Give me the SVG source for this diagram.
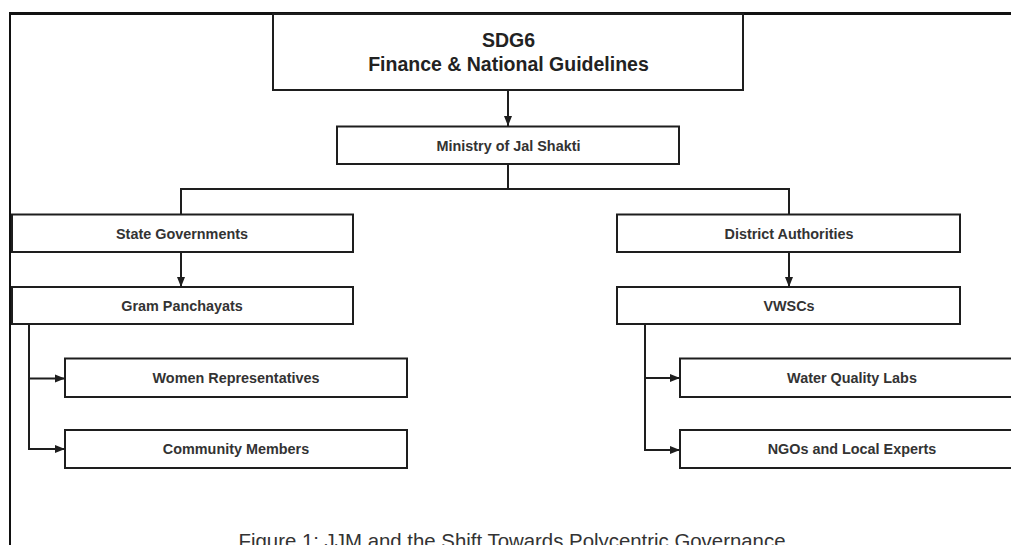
<svg xmlns="http://www.w3.org/2000/svg" width="1011" height="545" viewBox="0 0 1011 545">
<style>
.box{fill:#fff;stroke:#1e1e1e;stroke-width:2}
.lbl{font-family:"Liberation Sans",Arial,sans-serif;font-weight:bold;font-size:14.4px;fill:#333;text-anchor:middle}
.ttl{font-family:"Liberation Sans",Arial,sans-serif;font-weight:bold;font-size:19.5px;fill:#222;text-anchor:middle}
.cap{font-family:"Liberation Sans",Arial,sans-serif;font-size:20.4px;fill:#333;text-anchor:middle}
.ln{fill:none;stroke:#1e1e1e;stroke-width:2}
.arr{fill:none;stroke:#1e1e1e;stroke-width:2;marker-end:url(#ah)}
</style>
<defs>
<marker id="ah" markerUnits="userSpaceOnUse" markerWidth="10" markerHeight="10" viewBox="0 0 10 10" refX="10" refY="5" orient="auto">
<path d="M0,1 L10,5 L0,9 Z" fill="#1e1e1e"/>
</marker>
</defs>
<rect width="1011" height="545" fill="#fff"/>
<g id="frame">
<line x1="9" y1="13.5" x2="1011" y2="13.5" stroke="#111" stroke-width="3"/>
<line x1="10" y1="12" x2="10" y2="545" stroke="#111" stroke-width="2"/>
</g>
<g id="connectors">
<line class="arr" x1="508" y1="90" x2="508" y2="126"/>
<polyline class="ln" points="508,164 508,189"/>
<polyline class="ln" points="181,214 181,189 789,189 789,214"/>
<line class="arr" x1="181" y1="252" x2="181" y2="287"/>
<line class="arr" x1="789" y1="252" x2="789" y2="287"/>
<polyline class="ln" points="29,324 29,449"/>
<line class="arr" x1="29" y1="378.5" x2="65" y2="378.5"/>
<line class="arr" x1="28" y1="449" x2="65" y2="449"/>
<polyline class="ln" points="645,324 645,450"/>
<line class="arr" x1="645" y1="378" x2="680" y2="378"/>
<line class="arr" x1="644" y1="450" x2="680" y2="450"/>
</g>
<g id="sdg6">
<rect class="box" x="273" y="14" width="470" height="76"/>
<text class="ttl" x="508.5" y="47">SDG6</text>
<text class="ttl" x="508.5" y="71">Finance &amp; National Guidelines</text>
</g>
<g id="ministry">
<rect class="box" x="337" y="126.5" width="342" height="37.5"/>
<text class="lbl" x="508.5" y="151">Ministry of Jal Shakti</text>
</g>
<g id="state">
<rect class="box" x="12" y="214.5" width="341" height="37.5"/>
<text class="lbl" x="182" y="238.5">State Governments</text>
</g>
<g id="district">
<rect class="box" x="617" y="214.5" width="343" height="37.5"/>
<text class="lbl" x="789" y="238.5">District Authorities</text>
</g>
<g id="gram">
<rect class="box" x="12" y="287" width="341" height="37"/>
<text class="lbl" x="182" y="311">Gram Panchayats</text>
</g>
<g id="vwscs">
<rect class="box" x="617" y="287" width="343" height="37"/>
<text class="lbl" x="789" y="311">VWSCs</text>
</g>
<g id="women">
<rect class="box" x="65" y="358.5" width="342" height="38.5"/>
<text class="lbl" x="236" y="383">Women Representatives</text>
</g>
<g id="community">
<rect class="box" x="65" y="430" width="342" height="38"/>
<text class="lbl" x="236" y="454">Community Members</text>
</g>
<g id="waterlabs">
<rect class="box" x="680" y="358.5" width="344" height="38.5"/>
<text class="lbl" x="852" y="383">Water Quality Labs</text>
</g>
<g id="ngos">
<rect class="box" x="680" y="430" width="344" height="38"/>
<text class="lbl" x="852" y="454">NGOs and Local Experts</text>
</g>
<text class="cap" x="512" y="548">Figure 1: JJM and the Shift Towards Polycentric Governance</text>
</svg>
